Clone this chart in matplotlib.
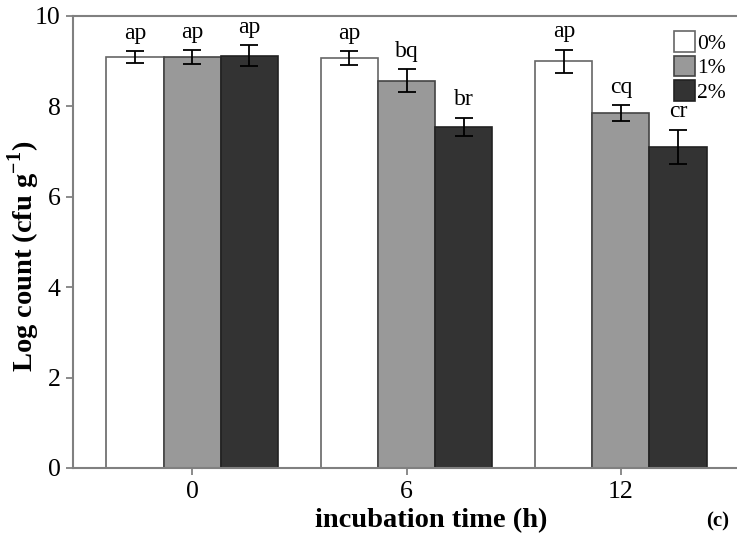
import numpy as np
import matplotlib
matplotlib.use('Agg')
import matplotlib.pyplot as plt

plt.rcParams['font.family'] = ['Liberation Serif', 'DejaVu Serif']
plt.rcParams['mathtext.fontset'] = 'custom'
plt.rcParams['mathtext.rm'] = 'Liberation Serif'
plt.rcParams['mathtext.bf'] = 'Liberation Serif:bold'

times = ['0', '6', '12']
groups = ['0%', '1%', '2%']
means_0 = [9.09, 9.07, 9.00]
means_1 = [9.09, 8.57, 7.85]
means_2 = [9.12, 7.55, 7.10]
err_0 = [0.13, 0.15, 0.25]
err_1 = [0.155, 0.25, 0.18]
err_2 = [0.23, 0.20, 0.38]
letters_0 = ['ap', 'ap', 'ap']
letters_1 = ['ap', 'bq', 'cq']
letters_2 = ['ap', 'br', 'cr']

colors = ['#ffffff', '#999999', '#333333']
edges = ['#666666', '#444444', '#222222']

fig = plt.figure(figsize=(7.37, 5.39), dpi=100)
ax = fig.add_axes([73/737, 1-468/539, 1-73/737, (468-16)/539])

x = np.arange(len(times))
w = 0.266
series = [(means_0, err_0, letters_0), (means_1, err_1, letters_1), (means_2, err_2, letters_2)]
for i, (m, e, lab) in enumerate(series):
    pos = x + (i - 1) * w
    ax.bar(pos, m, width=w, color=colors[i], edgecolor=edges[i], linewidth=1.2, label=groups[i], zorder=2)
    ax.errorbar(pos, m, yerr=e, fmt='none', ecolor='black', elinewidth=1.3, capsize=6.5, capthick=1.3, zorder=3)
    for p, v, s, t in zip(pos, m, e, lab):
        ax.annotate(t, (p, v + s), xytext=(0, 9), textcoords='offset points',
                    ha='center', va='baseline', fontsize=17)

ax.set_xlim(-0.555, 2.541)
ax.set_ylim(0, 10)
ax.set_xticks(x)
ax.set_xticklabels(times)
ax.set_yticks([0, 2, 4, 6, 8, 10])
ax.tick_params(axis='both', labelsize=18.5, length=5, color='#777777', width=1.2, pad=4)
for side in ['left', 'bottom', 'top']:
    ax.spines[side].set_color('#808080')
    ax.spines[side].set_linewidth(1.5)
ax.spines['right'].set_visible(False)

fig.text(24/737, 1-256/539, r'Log count (cfu g$^{\mathbf{-1}}$)', rotation=90, ha='center', va='center',
         fontsize=20.5, fontweight='bold')
fig.text(431/737, 1-521/539, 'incubation time (h)', ha='center', va='center', fontsize=20.5, fontweight='bold')
fig.text(718/737, 1-521/539, '(c)', ha='center', va='center', fontsize=15, fontweight='bold')

leg = ax.legend(loc='upper right', bbox_to_anchor=(1.0, 0.99), frameon=False, fontsize=15.5,
                handlelength=1.0, handleheight=1.1, handletextpad=0.1, labelspacing=0.08,
                borderaxespad=0.2, borderpad=0.3)

fig.savefig('out.png', dpi=100)
